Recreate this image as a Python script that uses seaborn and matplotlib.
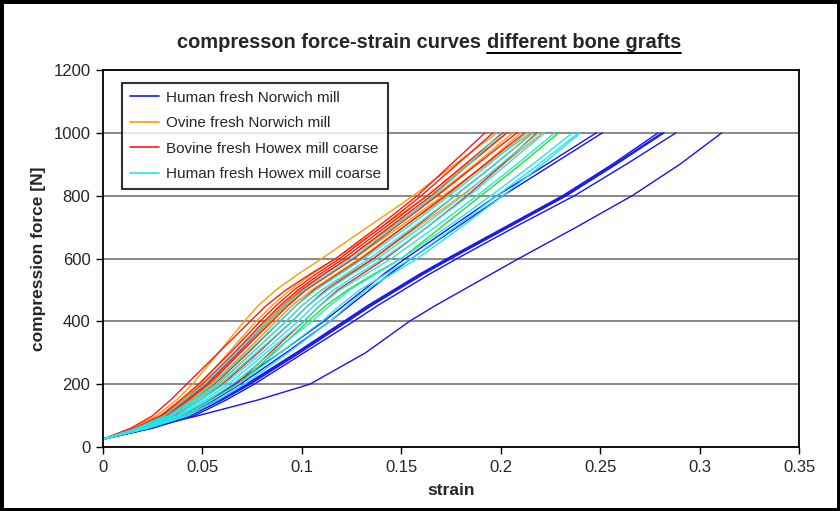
import matplotlib
matplotlib.use("Agg")
import matplotlib.pyplot as plt
import numpy as np
import pandas as pd
import seaborn as sns
from matplotlib.lines import Line2D

# Force levels (N) at which each specimen's strain is recorded
force_levels = [25, 60, 100, 150, 200, 300, 400, 450, 500, 550, 600, 700, 800, 900, 1000]

# Strain per specimen at the force levels above
human_norwich = [
    [0, .022, .040, .053, .066, .089, .111, .121, .131, .141, .152, .175, .198, .223, .248],
    [0, .023, .041, .056, .069, .092, .114, .124, .134, .144, .155, .178, .201, .226, .251],
    [0, .024, .043, .058, .072, .097, .121, .133, .146, .159, .173, .202, .231, .256, .279],
    [0, .024, .044, .060, .074, .099, .123, .135, .148, .161, .175, .204, .233, .258, .282],
    [0, .025, .046, .062, .076, .101, .126, .138, .151, .164, .178, .207, .237, .263, .288],
    [0, .024, .044, .059, .073, .098, .122, .134, .147, .160, .174, .203, .232, .257, .281],
    [0, .022, .048, .078, .104, .132, .154, .167, .181, .195, .209, .238, .266, .290, .311],
]
ovine_norwich = [
    [0, .015, .027, .037, .045, .058, .071, .078, .087, .098, .110, .133, .156, .177, .198],
    [0, .016, .029, .040, .049, .063, .077, .085, .094, .105, .117, .140, .163, .183, .203],
    [0, .017, .031, .042, .052, .067, .082, .090, .099, .111, .123, .145, .167, .187, .206],
    [0, .018, .033, .045, .055, .071, .087, .095, .105, .117, .129, .151, .173, .192, .210],
    [0, .019, .035, .047, .058, .075, .092, .100, .110, .123, .136, .158, .180, .201, .221],
    [0, .018, .032, .044, .054, .069, .084, .092, .102, .114, .126, .149, .171, .193, .215],
]
bovine_howex = [
    [0, .014, .025, .034, .042, .058, .074, .082, .092, .104, .117, .138, .158, .175, .192],
    [0, .016, .029, .039, .048, .064, .079, .087, .096, .107, .119, .140, .160, .178, .196],
    [0, .017, .030, .041, .050, .066, .081, .089, .098, .109, .121, .142, .163, .182, .201],
    [0, .017, .031, .042, .052, .068, .083, .091, .100, .111, .123, .144, .165, .184, .203],
    [0, .018, .032, .043, .053, .069, .085, .093, .102, .114, .126, .147, .168, .188, .208],
    [0, .018, .034, .045, .056, .073, .089, .097, .106, .118, .130, .151, .172, .192, .212],
    [0, .020, .036, .049, .060, .078, .095, .103, .112, .124, .136, .157, .177, .197, .216],
    [0, .022, .040, .054, .067, .084, .101, .109, .118, .130, .142, .163, .183, .201, .218],
]
human_howex = [
    [0, .017, .031, .041, .051, .067, .083, .091, .101, .113, .125, .146, .166, .184, .200],
    [0, .018, .033, .045, .055, .072, .089, .097, .107, .119, .131, .153, .174, .194, .213],
    [0, .019, .034, .046, .057, .075, .092, .100, .110, .122, .134, .156, .177, .197, .216],
    [0, .019, .035, .048, .059, .077, .095, .103, .113, .125, .138, .160, .181, .200, .219],
    [0, .020, .037, .049, .061, .080, .098, .106, .116, .128, .141, .163, .184, .203, .222],
    [0, .021, .038, .051, .063, .082, .101, .109, .119, .132, .145, .167, .188, .208, .227],
    [0, .021, .039, .053, .065, .085, .105, .114, .124, .137, .150, .173, .195, .216, .236],
    [0, .022, .041, .055, .068, .089, .110, .119, .129, .142, .155, .177, .198, .219, .239],
    [0, .023, .043, .058, .071, .093, .114, .123, .132, .145, .158, .180, .201, .221, .240],
]
human_howex_extra = [
    [0, .022, .041, .055, .068, .086, .103, .112, .123, .136, .150, .170, .190, .210, .229],
]

groups = [
    ("Human fresh Norwich mill", human_norwich, "#1414F0", True),
    ("Ovine fresh Norwich mill", ovine_norwich, "#FF9A00", True),
    ("Bovine fresh Howex mill coarse", bovine_howex, "#FF1A10", True),
    ("Human fresh Howex mill coarse (extra)", human_howex_extra, "#22E022", False),
    ("Human fresh Howex mill coarse", human_howex, "#1EE8EE", True),
]

rows = []
for name, curves, _, _ in groups:
    for k, strains in enumerate(curves):
        for s, f in zip(strains, force_levels):
            rows.append({"group": name, "specimen": f"{name}-{k}", "strain": s, "force": f})
df = pd.DataFrame(rows)

sns.set_style("white")
plt.rcParams["font.family"] = ["Liberation Sans", "DejaVu Sans"]

fig = plt.figure(figsize=(8.4, 5.11), dpi=100, linewidth=5, edgecolor="black")
ax = fig.add_axes([0.1226, 0.1252, 0.8290, 0.7378])

handles = []
for name, curves, color, in_legend in groups:
    sub = df[df["group"] == name]
    sns.lineplot(data=sub, x="strain", y="force", units="specimen", estimator=None,
                 sort=False, color=color, lw=1.0, ax=ax, legend=False)
    if in_legend:
        handles.append(Line2D([], [], color=color, lw=1.2, label=name))

x_ticks = [0, 0.05, 0.1, 0.15, 0.2, 0.25, 0.3, 0.35]
x_tick_labels = ["0", "0.05", "0.1", "0.15", "0.2", "0.25", "0.3", "0.35"]
y_ticks = [0, 200, 400, 600, 800, 1000, 1200]

ax.set_xlim(0, 0.35)
ax.set_ylim(0, 1200)
ax.set_xticks(x_ticks)
ax.set_xticklabels(x_tick_labels)
ax.set_yticks(y_ticks)
ax.tick_params(axis="both", direction="out", length=5, width=1, color="black",
               labelsize=12, pad=4, bottom=True, left=True)
ax.yaxis.grid(True, color="#808080", lw=1.3)
ax.xaxis.grid(False)
ax.set_axisbelow(True)
for sp in ax.spines.values():
    sp.set_color("black")
    sp.set_linewidth(1.3)

ax.set_xlabel("strain", fontsize=12.5, fontweight="bold", labelpad=6)
ax.set_ylabel("compression force [N]", fontsize=12.5, fontweight="bold", labelpad=5)

leg = ax.legend(handles=handles, loc="upper left", bbox_to_anchor=(0.0273, 0.9655),
                borderaxespad=0, fontsize=11, frameon=True, fancybox=False,
                handlelength=1.9, handletextpad=0.45, labelspacing=0.75, borderpad=0.5)
leg.get_frame().set_edgecolor("black")
leg.get_frame().set_linewidth(1.5)

# Title with the second half underlined
part1 = "compresson force-strain curves"
part2 = "different bone grafts"
title_kw = dict(fontsize=14.4, fontweight="bold", va="baseline", ha="left")
fig.canvas.draw()
renderer = fig.canvas.get_renderer()
W, H = fig.bbox.width, fig.bbox.height
probe_a = fig.text(0, 0, "x x", **title_kw)
probe_b = fig.text(0, 0, "xx", **title_kw)
space_w = probe_a.get_window_extent(renderer).width - probe_b.get_window_extent(renderer).width
probe_a.remove()
probe_b.remove()
t1 = fig.text(0, 0, part1, **title_kw)
t2 = fig.text(0, 0, part2, **title_kw)
w1 = t1.get_window_extent(renderer).width
w2 = t2.get_window_extent(renderer).width
total = w1 + space_w + w2
x_start = 429 - total / 2
baseline_px = H - 48
t1.set_position((x_start / W, baseline_px / H))
t2.set_position(((x_start + w1 + space_w) / W, baseline_px / H))
ul_y = (baseline_px - 5) / H
fig.add_artist(Line2D([(x_start + w1 + space_w) / W, (x_start + total) / W], [ul_y, ul_y],
                      transform=fig.transFigure, color="black", lw=1.4))

fig.savefig("out.png", dpi=100, edgecolor=fig.get_edgecolor())
